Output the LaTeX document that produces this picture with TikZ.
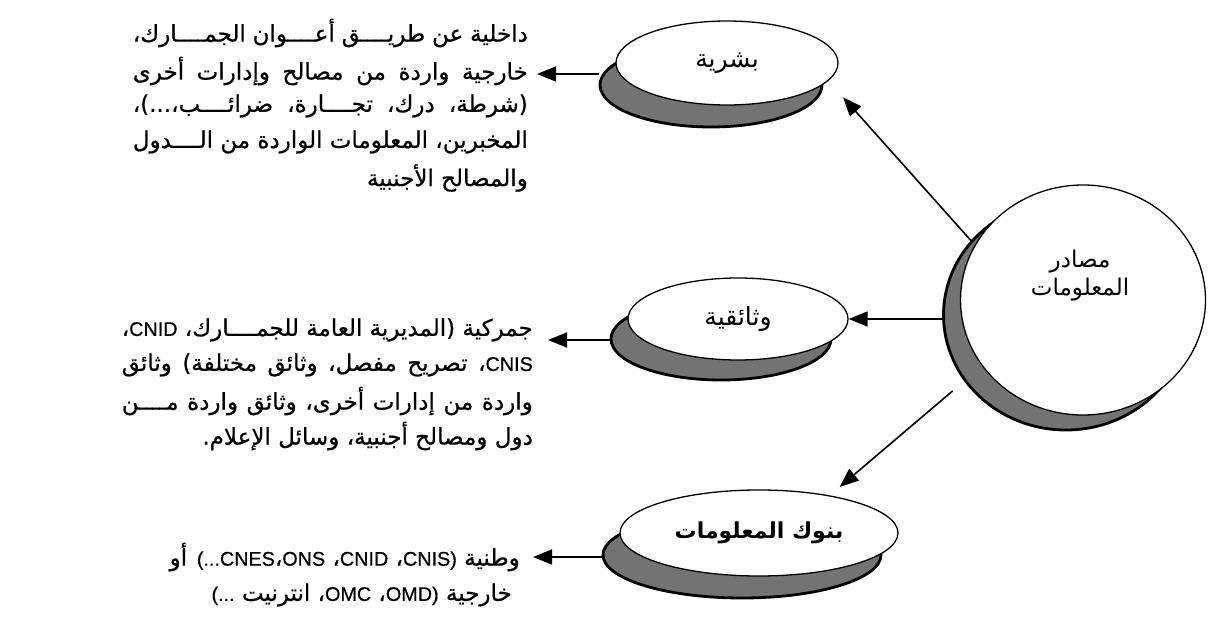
\documentclass[tikz,border=0pt]{standalone}
\usepackage{fontspec}
\usetikzlibrary{shapes.geometric,arrows.meta}
\TeXXeTstate=1
\newfontfamily\arf[Script=Arabic, FakeBold=0.6]{DejaVu Sans}
\newfontfamily\arlab[Script=Arabic]{DejaVu Sans}
\newfontfamily\latf[Scale=0.86, FakeBold=0.6]{Liberation Sans}
\newcommand\latw[1]{\beginL{\latf #1}\endL}
\newcommand\arjust[2]{\makebox[#1][s]{\arf #2}}
\tikzset{
  x=1pt,y=1pt,
  bubble/.style={ellipse, draw=black, line width=1.3pt, fill=white, inner sep=0pt},
  shadowe/.style={ellipse, draw=black, line width=2.8pt, fill=black!55, inner sep=0pt},
  conn/.style={line width=1.6pt, -{Triangle[length=19pt,width=15pt]}},
  body/.style={inner sep=0pt, font=\arf\fontsize{23}{26}\selectfont},
  lab/.style={font=\arlab\fontsize{25}{28}\selectfont}
}
\begin{document}
\begin{tikzpicture}
\useasboundingbox[fill=white] (0,0) rectangle (1215,630);

% shadows
\node[shadowe, minimum width=222pt, minimum height=84pt] (s1) at (711,545) {};
\node[shadowe, minimum width=220pt, minimum height=82pt] (s2) at (721,291) {};
\node[shadowe, minimum width=278pt, minimum height=86pt] (s3) at (742,75) {};
\node[shadowe, minimum width=245pt, minimum height=230pt] (cs) at (1066,315) {};

% bubbles
\node[bubble, lab, minimum width=222pt, minimum height=84pt] (e1) at (727,567) {\beginR بشرية\endR};
\node[bubble, lab, minimum width=220pt, minimum height=82pt] (e2) at (738,311) {\beginR وثائقية\endR};
\node[bubble, lab, font=\arlab\bfseries\fontsize{22}{26}\selectfont, minimum width=278pt, minimum height=86pt] (e3) at (759,97) {\beginR بنوك المعلومات\endR};
\node[bubble, minimum width=245pt, minimum height=230pt] (c) at (1083,330) {};
\node[lab, align=center, font=\arlab\fontsize{23}{28}\selectfont] (clab) at (1080,354) {\beginR مصادر\endR\\\beginR المعلومات\endR};

% text block 1
\node[body, anchor=east] (t11) at (528,597) {\arjust{395pt}{\beginR داخلية عن طريــــق أعــــوان الجمــــارك،\endR}};
\node[body, anchor=east] (t12) at (528,559) {\arjust{395pt}{\beginR خارجية واردة من مصالح وإدارات أخرى\endR}};
\node[body, anchor=east] (t13) at (528,524) {\arjust{395pt}{\beginR (شرطة، درك، تجــــارة، ضرائــــب،...)،\endR}};
\node[body, anchor=east] (t14) at (528,488) {\arjust{395pt}{\beginR المخبرين، المعلومات الواردة من الــــدول\endR}};
\node[body, anchor=east] (t15) at (528,452) {\beginR والمصالح الأجنبية\endR};

% text block 2
\node[body, anchor=east] (t21) at (533,300) {\arjust{411pt}{\beginR جمركية (المديرية العامة للجمــــارك، \latw{CNID}،\endR}};
\node[body, anchor=east] (t22) at (533,265) {\arjust{411pt}{\beginR \latw{CNIS}، تصريح مفصل، وثائق مختلفة) وثائق\endR}};
\node[body, anchor=east] (t23) at (533,229) {\arjust{411pt}{\beginR واردة من إدارات أخرى، وثائق واردة مــــن\endR}};
\node[body, anchor=east] (t24) at (533,194) {\beginR دول ومصالح أجنبية،  وسائل الإعلام.\endR};

% text block 3
\node[body, anchor=east] (t31) at (520,73) {\beginR وطنية \latw{)}\latw{CNIS}، \latw{CNID}، \latw{ONS}،\latw{CNES}\latw{(...} أو\endR};
\node[body, anchor=east] (t32) at (512,35) {\beginR خارجية \latw{)}\latw{OMD}، \latw{OMC}، انترنيت \latw{(...}\endR};

% connectors
\coordinate (p1) at (537,556);
\coordinate (p2) at (548,290);
\coordinate (p3) at (533,73);
\draw[conn, shorten <=5pt, shorten >=22pt] (c.153) -- (e1.-10);
\draw[conn] (cs.west |- e2.east) -- (e2.east);
\draw[conn, shorten <=15pt, shorten >=13pt] (cs.213) -- (e3.28);
\draw[conn] (s1.west |- p1) -- (p1);
\draw[conn] (s2.west |- p2) -- (p2);
\draw[conn] (s3.west |- p3) -- (p3);
\end{tikzpicture}
\end{document}
